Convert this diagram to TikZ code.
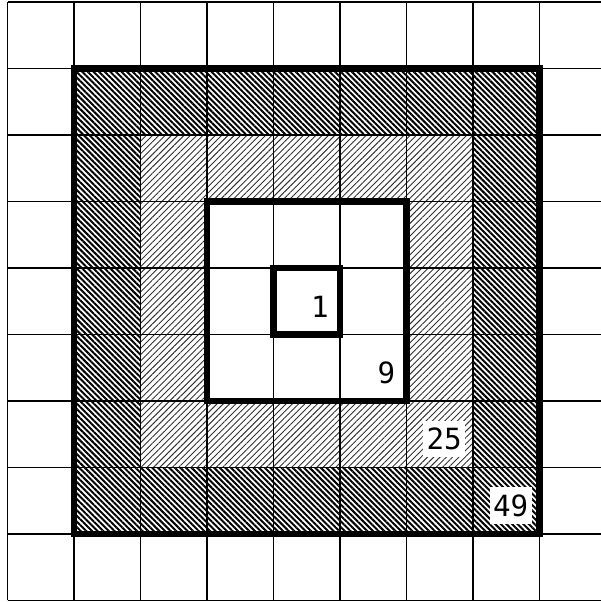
\documentclass[tikz,border=0pt]{standalone}
\usepackage{fontspec}
\setmonofont{DejaVu Sans Mono}
\usetikzlibrary{patterns.meta, calc}

\begin{document}
\begin{tikzpicture}[x=1cm,y=1cm,
  dense/.style={pattern={Lines[angle=-45,distance=1.7pt,line width=0.85pt]}},
  sparse/.style={pattern={Lines[angle=45,distance=1.9pt,line width=0.4pt]},pattern color=black!80},
  frame/.style={line width=2.8pt},
  cnt/.style={font=\ttfamily\fontsize{12.5}{15}\selectfont,anchor=south east,fill=white,inner xsep=1.5pt,inner ysep=3pt}]
  \useasboundingbox (-0.113,-0.023) rectangle (8.91,9.03);
  % hatched rings
  \path[dense,even odd rule] (1,1) rectangle (8,8) (2,2) rectangle (7,7);
  \path[sparse,even odd rule] (2,2) rectangle (7,7) (3,3) rectangle (6,6);
  \draw[line width=0.5pt] (0,0) grid (9,9);
  % frames
  \draw[frame] (1,1) rectangle (8,8);
  \draw[frame] (3,3) rectangle (6,6);
  \draw[frame] (4,4) rectangle (5,5);
  \foreach \k/\n in {1/1, 2/9, 3/25, 4/49}{
    \coordinate (c\n) at (4+\k,5-\k);
    \node[cnt] (n\n) at ($(c\n)+(-0.11,0.15)$) {\n};
  }
\end{tikzpicture}
\end{document}
